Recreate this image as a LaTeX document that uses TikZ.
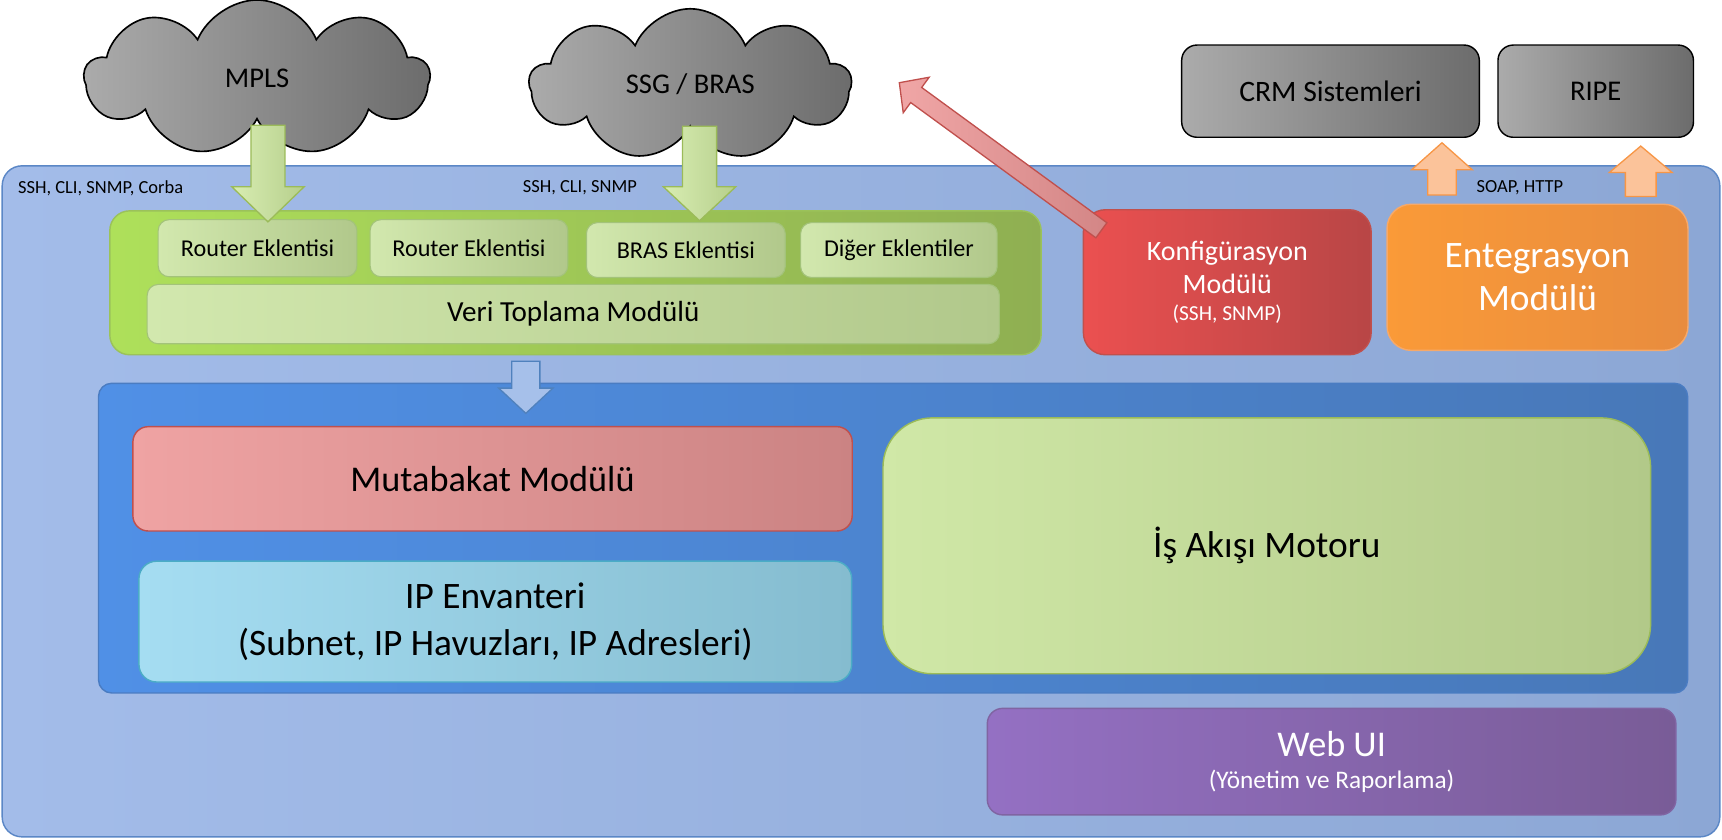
\documentclass[tikz,border=0pt]{standalone}
\usepackage{fontspec}
\setmainfont{Carlito}
\usetikzlibrary{shapes.symbols,calc}
\definecolor{outerL}{HTML}{A3BCE9}
\definecolor{outerR}{HTML}{8CA7D5}
\definecolor{outerB}{HTML}{5B87C6}
\definecolor{innerL}{HTML}{5090E6}
\definecolor{innerR}{HTML}{4878B8}
\definecolor{innerB}{HTML}{4A7CC2}
\definecolor{grnL}{HTML}{AEE05A}
\definecolor{grnR}{HTML}{8FAF52}
\definecolor{grnB}{HTML}{9BC25A}
\definecolor{plgL}{HTML}{D2E8AE}
\definecolor{plgR}{HTML}{B1C88B}
\definecolor{plgB}{HTML}{A3C37A}
\definecolor{konL}{HTML}{EB5050}
\definecolor{konR}{HTML}{B84646}
\definecolor{konB}{HTML}{C0504D}
\definecolor{entL}{HTML}{FA9A38}
\definecolor{entR}{HTML}{E88C3E}
\definecolor{entB}{HTML}{F6A96A}
\definecolor{gryL}{HTML}{ABABAB}
\definecolor{gryR}{HTML}{6C6C6C}
\definecolor{mutL}{HTML}{EFA3A3}
\definecolor{mutR}{HTML}{CB8383}
\definecolor{mutB}{HTML}{C0504D}
\definecolor{ipL}{HTML}{A5DDF2}
\definecolor{ipR}{HTML}{85BCCF}
\definecolor{ipB}{HTML}{4BACC6}
\definecolor{isL}{HTML}{D0E8A7}
\definecolor{isR}{HTML}{B2C989}
\definecolor{isB}{HTML}{9BBB59}
\definecolor{webL}{HTML}{9470C3}
\definecolor{webR}{HTML}{795C97}
\definecolor{webB}{HTML}{8064A2}
\definecolor{garL}{HTML}{D8EDB2}
\definecolor{garR}{HTML}{B6CF8C}
\definecolor{garB}{HTML}{9BBB59}
\definecolor{oarF}{HTML}{FBC39A}
\definecolor{oarB}{HTML}{F79646}
\definecolor{rarL}{HTML}{F0A6A6}
\definecolor{rarR}{HTML}{D38686}
\definecolor{rarB}{HTML}{C0504D}
\definecolor{barF}{HTML}{A6C0EA}
\definecolor{barB}{HTML}{4F81BD}

% #1 style, #2 tail coordinate, #3 tip coordinate, #4 shaft half width, #5 head half width, #6 head length
\newcommand{\blockarr}[6]{%
  \coordinate (#2-#3-b) at ($(#3)!#6!(#2)$);
  \draw[#1] ($(#2)!#4!90:(#3)$) -- ($(#2-#3-b)!#4!90:(#3)$) -- ($(#2-#3-b)!#5!90:(#3)$) -- (#3)
    -- ($(#2-#3-b)!#5!-90:(#3)$) -- ($(#2-#3-b)!#4!-90:(#3)$) -- ($(#2)!#4!-90:(#3)$) -- cycle;}

\tikzset{
  box/.style={draw, rounded corners=#1, align=center, inner sep=0pt, line width=1.3pt},
  box/.default=12pt,
  cloudnode/.style={cloud, cloud puffs=9, cloud puff arc=135, cloud ignores aspect,
    draw=black, line width=1.5pt,
    left color=gryL, right color=gryR, inner sep=0pt, align=center},
  grey/.style={box=14pt, draw=black, left color=gryL, right color=gryR},
  plug/.style={box=10pt, draw=plgB, left color=plgL, right color=plgR, line width=1pt},
  garrow/.style={draw=garB, line width=1.2pt, left color=garL, right color=garR, line join=miter},
  oarrow/.style={draw=oarB, line width=1.2pt, fill=oarF, line join=miter},
  rarrow/.style={draw=rarB, line width=1.2pt, left color=rarL, right color=rarR, line join=miter},
  barrow/.style={draw=barB, line width=1.2pt, fill=barF, line join=miter},
  small/.style={font=\fontsize{16.8}{20}\selectfont},
}

\begin{document}
\begin{tikzpicture}[x=1pt,y=-1pt]
\useasboundingbox (0,0) rectangle (1568,764);

% outer frame
\node[box=18pt, draw=outerB, left color=outerL, right color=outerR,
  minimum width=1564pt, minimum height=611pt] (outer) at (784,456.5) {};
\node[small, anchor=west] (l1) at (13,171) {SSH, CLI, SNMP, Corba};
\node[small] (l2) at (528,171) {SSH, CLI, SNMP};
\node[small] (l3) at (1384,171) {SOAP, HTTP};

% inner
\node[box=12pt, draw=innerB, left color=innerL, right color=innerR,
  minimum width=1447pt, minimum height=282pt] (inner) at (813.2,490) {};

% collection module
\node[box=18pt, draw=grnB, left color=grnL, right color=grnR,
  minimum width=848pt, minimum height=131pt] (green) at (524,257.5) {};
\node[plug, minimum width=181pt, minimum height=52pt, font=\fontsize{22}{26}\selectfont] (r1) at (234.5,226) {Router Eklentisi};
\node[plug, minimum width=180pt, minimum height=52pt, font=\fontsize{22}{26}\selectfont] (r2) at (427,226) {Router Eklentisi};
\node[plug, minimum width=181pt, minimum height=50pt, font=\fontsize{22}{26}\selectfont] (bras) at (624.5,227.7) {BRAS Eklentisi};
\node[plug, minimum width=179pt, minimum height=50pt, font=\fontsize{22}{26}\selectfont] (diger) at (818.5,227.7) {Diğer Eklentiler};
\node[plug, minimum width=776pt, minimum height=54pt, font=\fontsize{26.5}{31}\selectfont] (veri) at (522,286) {Veri Toplama Modülü};

% config & integration
\node[box=20pt, draw=konB, left color=konL, right color=konR, text=white,
  minimum width=262pt, minimum height=132pt, font=\fontsize{25.5}{31}\selectfont] (konf) at (1117.5,257)
  {Konfigürasyon\\[-1pt] Modülü\\[-6pt] {\fontsize{19.5}{22}\selectfont (SSH, SNMP)}};
\node[box=22pt, draw=entB, left color=entL, right color=entR, text=white,
  minimum width=274pt, minimum height=133pt, font=\fontsize{34}{39}\selectfont] (enteg) at (1400,252.5)
  {Entegrasyon\\ Modülü};

% external systems
\node[grey, minimum width=271pt, minimum height=84pt, font=\fontsize{27}{31}\selectfont] (crm) at (1211.5,83) {CRM Sistemleri};
\node[grey, minimum width=178pt, minimum height=84pt, font=\fontsize{26}{31}\selectfont] (ripe) at (1453,83) {RIPE};

% inner modules
\node[box=14pt, draw=mutB, left color=mutL, right color=mutR,
  minimum width=655pt, minimum height=95pt, font=\fontsize{33}{39}\selectfont] (mutab) at (448.5,436) {Mutabakat Modülü};
\node[box=16pt, draw=ipB, left color=ipL, right color=ipR,
  minimum width=649pt, minimum height=110pt, font=\fontsize{34}{43}\selectfont] (ipenv) at (451,566)
  {IP Envanteri\\ (Subnet, IP Havuzları, IP Adresleri)};
\node[box=45pt, draw=isB, left color=isL, right color=isR,
  minimum width=699pt, minimum height=233pt, font=\fontsize{34}{42}\selectfont] (isakis) at (1153.5,497) {İş Akışı Motoru};
\node[box=14pt, draw=webB, left color=webL, right color=webR, text=white,
  minimum width=627pt, minimum height=97pt, font=\fontsize{33}{39}\selectfont] (webui) at (1212.5,693.5)
  {Web UI\\[-10pt] {\fontsize{23}{27}\selectfont (Yönetim ve Raporlama)}};

% clouds
\node[cloudnode, minimum width=314pt, minimum height=142pt, font=\fontsize{26}{30}\selectfont] (mpls) at (234,71) {MPLS};
\node[cloudnode, minimum width=293pt, minimum height=138pt, font=\fontsize{26}{31}\selectfont] (ssg) at (628.5,77) {SSG / BRAS};

% arrow end points
\coordinate (g1t) at (244,114);
\coordinate (g1h) at (244,202);
\coordinate (g2t) at (637,115);
\coordinate (g2h) at (637,201);
\coordinate (bt) at (478.8,329);
\coordinate (bh) at (478.8,376.4);
\coordinate (rt) at (1002.9,209.7);
\coordinate (rh) at (818.9,75.3);
\coordinate (o1t) at (1313,177.5);
\coordinate (o1h) at (1313,130);
\coordinate (o2t) at (1494,179);
\coordinate (o2h) at (1494,133);

\blockarr{garrow}{g1t}{g1h}{15.5pt}{33pt}{32pt}
\blockarr{garrow}{g2t}{g2h}{15.5pt}{33pt}{31pt}
\blockarr{barrow}{bt}{bh}{12.8pt}{24.7pt}{23pt}
\blockarr{rarrow}{rt}{rh}{8.5pt}{20pt}{19pt}
\blockarr{oarrow}{o1t}{o1h}{13pt}{27.5pt}{24.5pt}
\blockarr{oarrow}{o2t}{o2h}{14pt}{28.5pt}{24pt}
\end{tikzpicture}
\end{document}
